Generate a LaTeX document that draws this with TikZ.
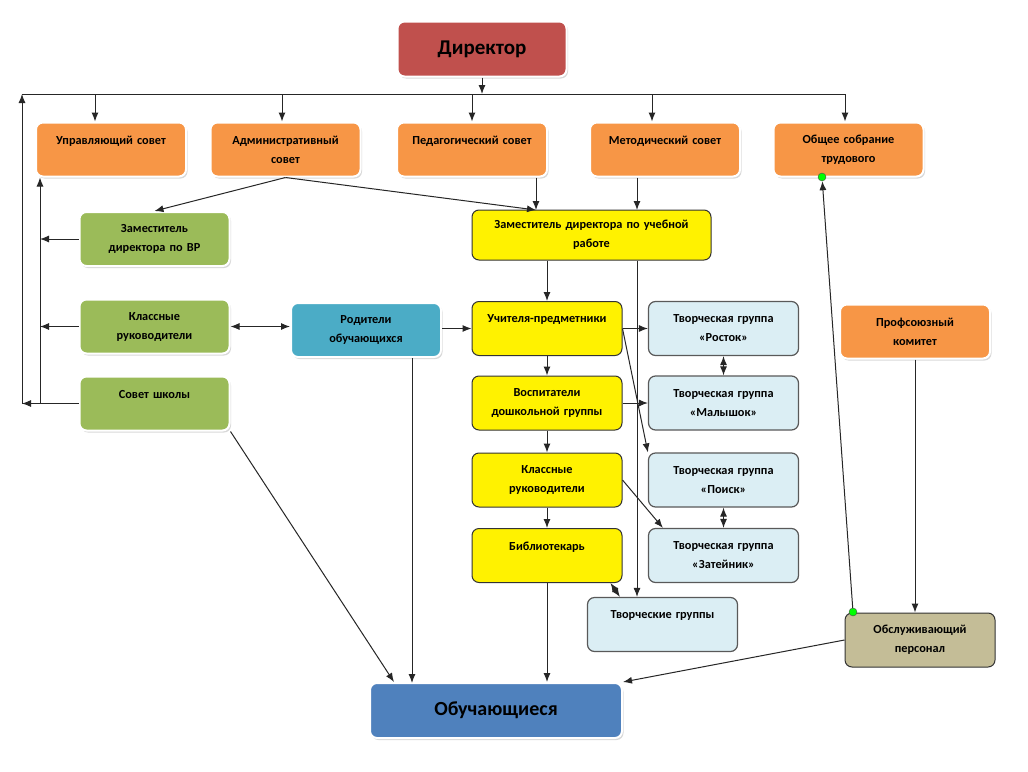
\documentclass[tikz,border=0pt]{standalone}
\usepackage{fontspec}
\setmainfont{Carlito}
\usetikzlibrary{arrows.meta,shadows}
\definecolor{dirred}{HTML}{C0504D}
\definecolor{orng}{HTML}{F79646}
\definecolor{olive}{HTML}{9BBB59}
\definecolor{aqua}{HTML}{4BACC6}
\definecolor{navy}{HTML}{4F81BD}
\definecolor{pale}{HTML}{DBEEF4}
\definecolor{tan}{HTML}{C4BD97}
\begin{document}
\begin{tikzpicture}[x=1pt,y=-1pt,
  box/.style={rounded corners=7pt,align=center,inner sep=2pt,
    font=\bfseries\fontsize{12.3}{19}\selectfont,
    minimum width=150pt,minimum height=54pt,text width=144pt},
  glow/.style={box,draw=white,line width=2pt,
    drop shadow={opacity=0.3,shadow xshift=1.5pt,shadow yshift=-2pt}},
  rim/.style={box,draw=black!80,line width=1pt},
  pal/.style={box,fill=pale,draw=black!65,line width=1.2pt},
  arr/.style={-{Latex[length=9pt,width=7pt]},line width=1pt,black!85},
  biarr/.style={{Latex[length=9pt,width=7pt]}-{Latex[length=9pt,width=7pt]},line width=1pt,black!85},
  dot/.style={circle,fill=green,draw=black!70,inner sep=0pt,minimum size=8pt}]
\useasboundingbox (0,0) rectangle (1028,771);
\fill[white] (0,0) rectangle (1028,771);
% top
\node[glow,fill=dirred,minimum width=169pt,minimum height=55pt,text width=160pt,
  font=\bfseries\fontsize{21}{24}\selectfont] (dir) at (482,49) {Директор};
\node[glow,fill=orng] (upr) at (111,149.5) {Управляющий совет\\~};
\node[glow,fill=orng] (adm) at (285.5,149.5) {Административный\\совет};
\node[glow,fill=orng] (ped) at (472,149.5) {Педагогический совет\\~};
\node[glow,fill=orng] (met) at (665,149.5) {Методический совет\\~};
\node[glow,fill=orng] (obsh) at (848.5,149.5) {Общее собрание\\трудового};
% left column
\node[glow,fill=olive] (zamvr) at (154.5,239) {Заместитель\\директора по ВР};
\node[glow,fill=olive] (klrukg) at (154.5,326.5) {Классные\\руководители};
\node[glow,fill=olive] (sovet) at (154.5,403.5) {Совет школы\\~};
\node[glow,fill=aqua] (rod) at (366,330) {Родители\\обучающихся};
% middle column
\node[rim,fill=yellow,minimum width=239pt,minimum height=50pt,text width=230pt] (zamur) at (591.5,235)
  {Заместитель директора по учебной\\работе};
\node[rim,fill=yellow] (uchit) at (547,328.5) {Учителя-предметники\\~};
\node[rim,fill=yellow] (vosp) at (547,403) {Воспитатели\\дошкольной группы};
\node[rim,fill=yellow] (klruky) at (547,480) {Классные\\руководители};
\node[rim,fill=yellow] (bibl) at (547,555.5) {Библиотекарь\\~};
% creative groups
\node[pal] (rostok) at (723.5,328.5) {Творческая группа\\«Росток»};
\node[pal] (malysh) at (723.5,403) {Творческая группа\\«Малышок»};
\node[pal] (poisk) at (723.5,480) {Творческая группа\\«Поиск»};
\node[pal] (zateyn) at (723.5,555.5) {Творческая группа\\«Затейник»};
\node[pal] (tvgr) at (662.5,624.5) {Творческие группы\\~};
% right
\node[glow,fill=orng] (prof) at (915,331.5) {Профсоюзный\\комитет};
\node[rim,fill=tan] (obsl) at (920,640) {Обслуживающий\\персонал};
% bottom
\node[glow,fill=navy,minimum width=252pt,minimum height=55pt,text width=244pt,
  font=\bfseries\fontsize{20}{24}\selectfont] (obuch) at (496,710.5) {Обучающиеся};
% bus
\coordinate (busL) at (22,94);
\coordinate (busR) at (845,94);
\coordinate (l1) at (22,403.5);
\coordinate (l2) at (40,403.5);
\coordinate (ur1) at (536,210);
\coordinate (ur2) at (637,210);
\coordinate (ob1) at (412,683);
\draw[line width=1pt,black!85] (busL) -- (busR);
\draw[arr] (dir.south) -- (dir.south |- busL);
\foreach \n/\xx in {upr/95,adm/282,ped/472,met/652,obsh/845}{
  \coordinate (b\n) at (\xx,94);
  \draw[arr] (b\n) -- (b\n |- \n.north);
}
% left lines
\draw[arr] (sovet.west) -- (l1);
\draw[arr] (l1) -- (busL);
\draw[arr] (l2) -- (l2 |- upr.south);
\draw[arr] (zamvr.west) -- (zamvr.west -| l2);
\draw[arr] (klrukg.west) -- (klrukg.west -| l2);
% councils to deputies
\draw[arr] (adm.south) -- (zamvr.north);
\draw[arr] (adm.south) -- (ur1);
\draw[arr] (ped.south -| ur1) -- (ur1);
\draw[arr] (met.south -| ur2) -- (ur2);
\draw[arr] (zamur.south -| uchit.north) -- (uchit.north);
\draw[arr] (zamur.south -| ur2) -- (tvgr.north -| ur2);
\foreach \a/\b in {uchit/vosp,vosp/klruky,klruky/bibl}
  \draw[arr] (\a.south) -- (\b.north);
% sideways
\draw[biarr] (klrukg.east) -- (klrukg.east -| rod.west);
\draw[arr] (rod.east |- uchit.west) -- (uchit.west);
\draw[arr] (uchit.east) -- (rostok.west);
\draw[arr] (uchit.east) -- (poisk.north west);
\draw[arr] (vosp.east) -- (malysh.west);
\draw[arr] (klruky.east) -- ([xshift=15pt]zateyn.north west);
\draw[biarr] (rostok.south) -- (malysh.north);
\draw[biarr] (poisk.south) -- (zateyn.north);
\draw[biarr] ([xshift=-12pt]bibl.south east) -- ([xshift=33pt]tvgr.north west);
% to learners
\draw[arr] (sovet.south east) -- ([xshift=25pt]obuch.north west);
\draw[arr] (rod.south -| ob1) -- (ob1);
\draw[arr] (bibl.south) -- (bibl.south |- obuch.north);
\draw[arr] (obsl.west) -- (obuch.north east);
\draw[arr] (prof.south) -- (prof.south |- obsl.north);
% staff meeting
\node[dot] (dotA) at (822,177) {};
\node[dot] (dotB) at (853,612) {};
\draw[arr] (dotB) -- (dotA);
\end{tikzpicture}
\end{document}
